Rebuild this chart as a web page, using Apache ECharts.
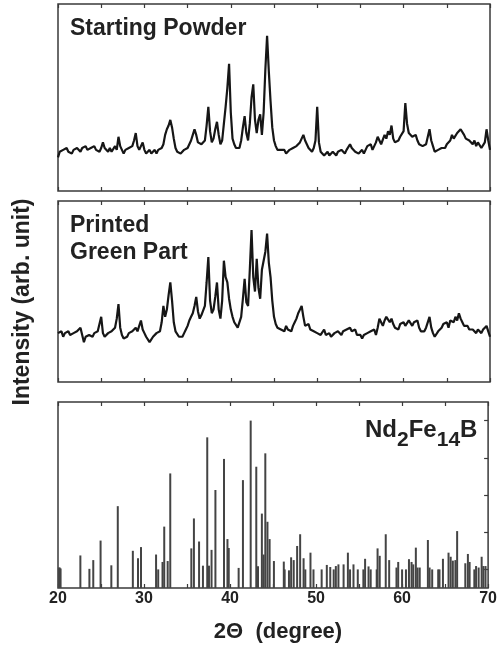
<!DOCTYPE html>
<html>
<head>
<meta charset="utf-8">
<script src="https://cdn.jsdelivr.net/npm/echarts@6/dist/echarts.min.js"></script>
<style>html,body{margin:0;padding:0;background:#fff;}#c{width:500px;height:650px;}</style>
</head>
<body>
<div id="c"></div>
<script>
// Sampling grid of the measured patterns (2θ, degree)
const thetaStart = 20;
const thetaStep = 0.2;

// Starting powder pattern (arb. unit, 0-100 of panel height)
const powderIntensity = [
  18, 21, 20, 22, 21, 23, 21, 22, 20, 22,
  21, 23, 22, 21, 23, 22, 24, 22, 21, 23,
  22, 24, 22, 23, 21, 23, 26, 23, 22, 21,
  23, 21, 22, 24, 22, 29, 24, 22, 20, 22,
  21, 23, 22, 24, 27, 31, 24, 22, 21, 26,
  22, 20, 21, 22, 20, 21, 22, 20, 22, 21,
  23, 25, 30, 33, 35, 38, 34, 28, 23, 21,
  22, 20, 21, 22, 21, 23, 24, 27, 30, 33,
  30, 26, 27, 25, 24, 27, 35, 45, 32, 26,
  28, 33, 37, 30, 25, 27, 36, 45, 55, 68,
  42, 28, 25, 23, 24, 23, 27, 34, 40, 31,
  27, 36, 50, 57, 38, 31, 38, 41, 30, 42,
  65, 83, 64, 48, 34, 27, 24, 22, 21, 22,
  21, 22, 20, 21, 22, 21, 23, 22, 24, 23,
  26, 28, 30, 27, 25, 23, 22, 21, 23, 27,
  45, 26, 21, 20, 19, 20, 21, 19, 20, 21,
  20, 19, 21, 20, 22, 21, 20, 22, 23, 25,
  23, 22, 21, 22, 20, 21, 22, 20, 22, 24,
  23, 25, 22, 24, 26, 29, 27, 25, 26, 30,
  28, 32, 30, 35, 28, 26, 25, 27, 29, 28,
  32, 47, 36, 31, 30, 29, 28, 30, 27, 25,
  24, 24, 23, 25, 26, 33, 27, 24, 21, 20,
  22, 21, 23, 24, 23, 25, 24, 27, 30, 28,
  29, 31, 30, 33, 34, 30, 28, 29, 27, 26,
  25, 27, 24, 26, 25, 23, 24, 26, 33, 27,
  22
];

// Printed green part pattern
const greenIntensity = [
  27, 26, 28, 25, 27, 26, 28, 26, 25, 27,
  26, 28, 27, 30, 26, 22, 25, 24, 26, 27,
  25, 27, 26, 28, 27, 36, 27, 25, 24, 27,
  26, 28, 27, 30, 35, 43, 30, 26, 24, 23,
  25, 27, 26, 28, 27, 30, 28, 31, 34, 29,
  27, 25, 24, 22, 23, 25, 26, 27, 26, 28,
  33, 42, 36, 40, 48, 55, 45, 33, 28, 27,
  25, 26, 25, 27, 29, 31, 34, 36, 38, 42,
  47, 39, 35, 37, 38, 42, 55, 69, 45, 38,
  40, 47, 55, 40, 35, 45, 67, 58, 55, 46,
  40, 36, 33, 32, 30, 31, 36, 46, 57, 44,
  42, 62, 84, 58, 50, 68, 52, 46, 62, 63,
  72, 82, 66, 58, 45, 36, 32, 30, 31, 29,
  30, 28, 31, 29, 30, 28, 31, 33, 35, 38,
  40, 42, 36, 31, 30, 32, 29, 30, 28, 29,
  27, 28, 26, 27, 29, 26, 25, 27, 25, 26,
  27, 26, 28, 27, 26, 28, 27, 29, 28, 30,
  28, 27, 29, 26, 27, 26, 24, 26, 25, 27,
  26, 28, 27, 29, 26, 30, 35, 33, 31, 34,
  36, 37, 33, 35, 32, 30, 31, 29, 32, 31,
  33, 31, 32, 34, 33, 31, 33, 32, 34, 30,
  28, 29, 28, 30, 31, 36, 30, 27, 25, 26,
  28, 27, 30, 32, 31, 33, 30, 34, 35, 33,
  36, 34, 38, 35, 33, 31, 30, 31, 29, 28,
  29, 28, 27, 29, 28, 27, 29, 30, 31, 28,
  25
];

// Nd2Fe14B reference reflections
const barTheta = [
  20.1, 20.2, 20.3, 22.6, 23.65, 24.1, 24.95, 26.2, 26.95, 28.7,
  29.3, 29.65, 31.4, 31.65, 32.15, 32.35, 32.75, 33.05, 35.5, 35.8,
  36.4, 36.85, 37.35, 37.55, 37.85, 38.3, 39.3, 39.7, 39.85, 41.0,
  41.5, 42.4, 43.05, 43.25, 43.7, 43.9, 44.1, 44.35, 44.6, 45.1,
  46.25, 46.35, 46.85, 47.1, 47.4, 47.8, 48.15, 48.55, 48.75, 49.35,
  49.7, 50.65, 51.25, 51.65, 52.05, 52.3, 52.6, 53.2, 53.7, 53.95,
  54.35, 54.85, 55.5, 55.7, 56.1, 56.35, 57.05, 57.15, 57.4, 58.1,
  58.5, 59.35, 59.55, 60.0, 60.45, 60.8, 61.1, 61.3, 61.6, 61.8,
  62.05, 63.0, 63.2, 63.5, 64.2, 64.35, 64.75, 65.4, 65.65, 65.9,
  66.2, 66.4, 67.35, 67.65, 67.85, 68.4, 68.6, 68.9, 69.25, 69.45,
  69.7
];
const barIntensity = [
  11, 11, 10.5, 17.5, 10.3, 15, 25.5, 12.2, 44, 20,
  16, 22, 18, 10, 14, 33, 14.5, 61.6, 21.3, 37.4,
  25, 12, 81, 12, 20.5, 52.7, 69.4, 26.3, 21.5, 10.8,
  58, 90, 65.2, 11.7, 40, 18, 72.4, 35.6, 26.3, 14.5,
  14.2, 10, 9.5, 16.5, 15, 22.6, 28.9, 16, 10, 19,
  10, 10, 12.4, 11.3, 10, 11.8, 12.7, 12.7, 19, 10,
  12.7, 10, 10, 15.7, 11.6, 10, 10, 21.3, 17.3, 28.9,
  15, 11, 14, 10, 10, 15.5, 14, 12.7, 21.7, 11,
  11, 25.8, 11, 10, 10, 10, 15.7, 19, 16.8, 14.7,
  15, 30.6, 13.3, 18.3, 14, 10, 11.8, 11, 16.8, 11.8,
  11.8
];

// Axis tick labels
const xTickLabels = [20, 30, 40, 50, 60, 70];

const toPairs = (arr) => arr.map((v, i) => [+(thetaStart + i * thetaStep).toFixed(1), v]);
const barData = barTheta.map((t, i) => [t, barIntensity[i]]);

const chart = echarts.init(document.getElementById('c'), null, {renderer: 'canvas'});
const FONT = '"Liberation Sans", Arial, Helvetica, sans-serif';
const FRAME = '#3a3a3a';
const grids = [
  {left: 58, top: 4, width: 432, height: 187},
  {left: 58, top: 201, width: 432, height: 181},
  {left: 58, top: 402, width: 432, height: 186}
].map(g => Object.assign({show: true, borderColor: FRAME, borderWidth: 1.5, backgroundColor: 'transparent'}, g));

const xAxes = [];
[0, 1, 2].forEach(gi => {
  ['bottom', 'top'].forEach(pos => {
    xAxes.push({
      type: 'value', gridIndex: gi, position: pos, min: 20, max: 70, interval: 5,
      axisLine: {show: false},
      axisTick: {show: true, inside: true, length: 4, lineStyle: {color: FRAME, width: 1.2}},
      splitLine: {show: false},
      axisLabel: {
        show: gi === 2 && pos === 'bottom', margin: 3,
        fontFamily: FONT, fontWeight: 'bold', fontSize: 16, color: '#222',
        formatter: v => (xTickLabels.indexOf(v) >= 0 ? String(v) : '')
      }
    });
  });
});

const yAxes = [
  {type: 'value', gridIndex: 0, min: 0, max: 100, show: false},
  {type: 'value', gridIndex: 1, min: 0, max: 100, show: false},
  {type: 'value', gridIndex: 2, min: 0, max: 100, position: 'right',
   axisLine: {show: false}, splitLine: {show: false}, axisLabel: {show: false},
   axisTick: {show: true, inside: true, length: 4, lineStyle: {color: FRAME, width: 1.2},
              customValues: [10, 30, 50, 70, 90]}}
];

const txt = (x, y, text, size, extra) => Object.assign({
  type: 'text', x: x, y: y,
  style: {text: text, font: 'bold ' + size + 'px ' + FONT, fill: '#222',
          textAlign: 'left', textVerticalAlign: 'middle'}
}, extra || {});

chart.setOption({
  animation: false,
  backgroundColor: '#fff',
  grid: grids,
  xAxis: xAxes,
  yAxis: yAxes,
  series: [
    {type: 'line', xAxisIndex: 0, yAxisIndex: 0, data: toPairs(powderIntensity),
     showSymbol: false, lineStyle: {color: '#161616', width: 2.2}},
    {type: 'line', xAxisIndex: 2, yAxisIndex: 1, data: toPairs(greenIntensity),
     showSymbol: false, lineStyle: {color: '#161616', width: 2.2}},
    {type: 'bar', xAxisIndex: 4, yAxisIndex: 2, data: barData, barWidth: 2,
     itemStyle: {color: '#444'}}
  ],
  graphic: [
    txt(70, 28.5, 'Starting Powder', 23),
    txt(70, 226, 'Printed', 23),
    txt(70, 253, 'Green Part', 23),
    txt(365, 430, 'Nd', 24),
    txt(397, 440, '2', 21),
    txt(408.7, 430, 'Fe', 24),
    txt(436.7, 440, '14', 21),
    txt(460, 430, 'B', 24),
    {type: 'text', x: 23, y: 302, rotation: Math.PI / 2,
     style: {text: 'Intensity (arb. unit)', font: 'bold 23px ' + FONT, fill: '#222',
             textAlign: 'center', textVerticalAlign: 'middle'}},
    {type: 'text', x: 278, y: 632,
     style: {text: '2\u0398  (degree)', font: 'bold 22px ' + FONT, fill: '#222',
             textAlign: 'center', textVerticalAlign: 'middle'}}
  ]
});
</script>
</body>
</html>
